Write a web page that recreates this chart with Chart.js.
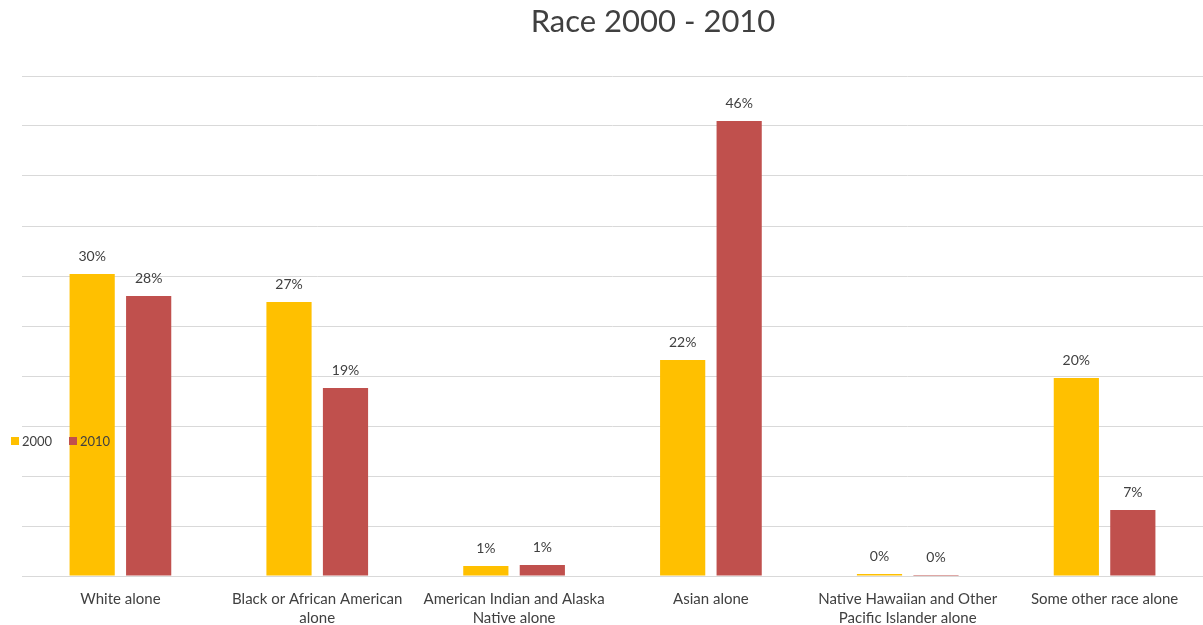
<!DOCTYPE html>
<html>
<head>
<meta charset="utf-8">
<script src="https://cdn.jsdelivr.net/npm/chart.js@4"></script>
<style>
  html, body { margin: 0; padding: 0; background: #fff; }
  #wrap { width: 1203px; height: 625px; position: relative; }
</style>
</head>
<body>
<div id="wrap"><canvas id="raceChart"></canvas></div>
<script>
// data
const categories = [
    ['White alone'],
    ['Black or African American', 'alone'],
    ['American Indian and Alaska', 'Native alone'],
    ['Asian alone'],
    ['Native Hawaiian and Other', 'Pacific Islander alone'],
    ['Some other race alone']
];
const seriesNames = ['2000', '2010'];
const values2000 = [30.2, 27.4, 1.0, 21.6, 0.2, 19.8];
const values2010 = [28.0, 18.8, 1.1, 45.5, 0.1, 6.6];
const seriesColors = ['#ffc000', '#c0504d'];
const chartTitle = 'Race 2000 - 2010';

const FONT = 'Lato, "Open Sans", sans-serif';
const TEXT = '#404040';

// title is a bit right of the canvas centre in the original
const titlePlugin = {
    id: 'titlePlugin',
    afterDraw(chart){
        const ctx = chart.ctx;
        ctx.save();
        ctx.font = '31px ' + FONT;
        ctx.fillStyle = TEXT;
        ctx.textAlign = 'center';
        ctx.textBaseline = 'middle';
        ctx.fillText(chartTitle, 653, 22);
        ctx.restore();
    }
};

// labels above bars
const barLabels = {
    id: 'barLabels',
    afterDatasetsDraw(chart){
        const ctx = chart.ctx;
        ctx.save();
        ctx.font = '14px ' + FONT;
        ctx.fillStyle = TEXT;
        ctx.textAlign = 'center';
        ctx.textBaseline = 'bottom';
        chart.data.datasets.forEach((ds, i) => {
            chart.getDatasetMeta(i).data.forEach((bar, j) => {
                ctx.fillText(Math.round(ds.data[j]) + '%', bar.x, bar.y - 11);
            });
        });
        ctx.restore();
    }
};

// legend sits on the left, over the plot
const sideLegend = {
    id: 'sideLegend',
    afterDraw(chart){
        const ctx = chart.ctx;
        ctx.save();
        ctx.font = '13px ' + FONT;
        ctx.textBaseline = 'middle';
        let x = 11;
        const y = 441;
        chart.data.datasets.forEach((ds) => {
            ctx.fillStyle = ds.backgroundColor;
            ctx.fillRect(x, y - 4, 8, 8);
            ctx.fillStyle = TEXT;
            ctx.fillText(ds.label, x + 11, y + 1);
            x += 58;
        });
        ctx.restore();
    }
};

const ctx = document.getElementById('raceChart').getContext('2d');
const myChart = new Chart(ctx, {
    type: 'bar',
    data: {
        labels: categories,
        datasets: [
            { label: seriesNames[0], data: values2000, backgroundColor: seriesColors[0] },
            { label: seriesNames[1], data: values2010, backgroundColor: seriesColors[1] }
        ]
    },
    options: {
        responsive: true,
        maintainAspectRatio: false,
        animation: false,
        layout: { padding: { left: 22, right: 0, top: 76, bottom: 0 } },
        categoryPercentage: 0.574,
        barPercentage: 0.8,
        plugins: {
            legend: { display: false },
            tooltip: { enabled: false },
            title: { display: false }
        },
        scales: {
            x: {
                grid: { display: false },
                border: { color: '#d9d9d9' },
                ticks: {
                    color: TEXT,
                    font: { family: FONT, size: 15, lineHeight: 1.27 },
                    maxRotation: 0,
                    autoSkip: false,
                    padding: 6
                },
                afterFit(scale){ scale.height = 49; }
            },
            y: {
                min: 0,
                max: 50,
                ticks: { stepSize: 5, display: false },
                grid: { color: '#d9d9d9', drawTicks: false },
                border: { display: false }
            }
        }
    },
    plugins: [barLabels, sideLegend, titlePlugin]
});
</script>
</body>
</html>
